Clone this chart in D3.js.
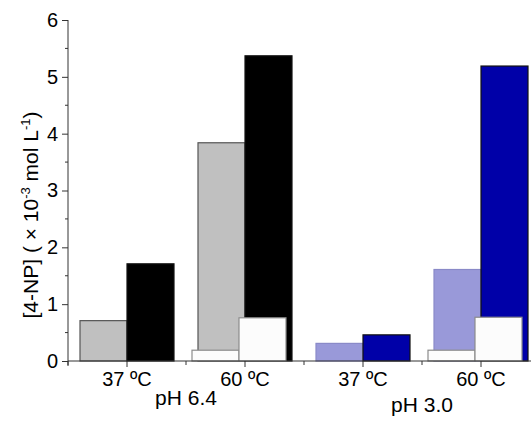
<!DOCTYPE html>
<html>
<head>
<meta charset="utf-8">
<script src="https://cdn.jsdelivr.net/npm/d3@7"></script>
<style>
  body { margin: 0; background: #fff; }
  text { font-family: "Liberation Sans", Arial, sans-serif; }
</style>
</head>
<body>
<div id="chart"></div>
<script>
// data
var catIds = ["a", "b", "c", "d"];
var catLabels = ["37 ºC", "60 ºC", "37 ºC", "60 ºC"];
var groupLabels = ["pH 6.4", "pH 3.0"];
var lightVals = [0.71, 3.84, 0.31, 1.61];
var darkVals = [1.71, 5.37, 0.46, 5.19];
var whiteSmall = [null, 0.19, null, 0.19];
var whiteBig = [null, 0.76, null, 0.77];
var yTicks = [0, 1, 2, 3, 4, 5, 6];

var lightColors = ["#c0c0c0", "#c0c0c0", "#9999d9", "#9999d9"];
var lightStroke = ["#555555", "#555555", "#8a8ac8", "#8a8ac8"];
var darkColors = ["#000000", "#000000", "#0000a8", "#0000a8"];

var svgWidth = 531;
var svgHeight = 423;
var margin = {top: 20, left: 68};
var x0 = 68, x1 = 540;   // axis runs off the right edge
var yBottom = 361;

var svg = d3.select("#chart")
    .append("svg")
    .attr("width", svgWidth)
    .attr("height", svgHeight);

var xScale = d3.scaleBand()
    .domain(catIds)
    .range([x0, x1])
    .padding(0);

var sub = d3.scaleBand().domain(["light", "dark"]).range([12, 106]);
var subWhite = d3.scaleBand().domain(["small", "big"]).range([6, 100]);

var yScale = d3.scaleLinear()
    .domain([0, 6])
    .range([yBottom, margin.top]);

// coloured bars
svg.selectAll(".light")
    .data(lightVals)
    .enter()
    .append("rect")
    .attr("x", (d, i) => xScale(catIds[i]) + sub("light"))
    .attr("y", d => yScale(d))
    .attr("width", sub.bandwidth())
    .attr("height", d => yScale(0) - yScale(d))
    .attr("fill", (d, i) => lightColors[i])
    .attr("stroke", (d, i) => lightStroke[i])
    .attr("stroke-width", 1.2);

svg.selectAll(".dark")
    .data(darkVals)
    .enter()
    .append("rect")
    .attr("x", (d, i) => xScale(catIds[i]) + sub("dark"))
    .attr("y", d => yScale(d))
    .attr("width", sub.bandwidth())
    .attr("height", d => yScale(0) - yScale(d))
    .attr("fill", (d, i) => darkColors[i])
    .attr("stroke", "#111")
    .attr("stroke-width", 1.2);

// white overlay bars
function whiteBars(vals, key) {
    svg.selectAll(".w" + key)
        .data(vals.map((v, i) => ({v: v, i: i})).filter(d => d.v != null))
        .enter()
        .append("rect")
        .attr("x", d => xScale(catIds[d.i]) + subWhite(key))
        .attr("y", d => yScale(d.v))
        .attr("width", subWhite.bandwidth())
        .attr("height", d => yScale(0) - yScale(d.v))
        .attr("fill", "#fcfcfc")
        .attr("stroke", "#8c8c8c")
        .attr("stroke-width", 1.2);
}
whiteBars(whiteSmall, "small");
whiteBars(whiteBig, "big");

// y axis
var leftAxis = d3.axisLeft(yScale).tickValues(yTicks).tickSize(6).tickPadding(4).tickFormat(d3.format("d"));
var yAxisG = svg.append("g")
    .attr("transform", `translate(${x0},0)`)
    .call(leftAxis);
yAxisG.select(".domain").remove();
yAxisG.selectAll("text").style("font-size", "20px").attr("fill", "#000");
yAxisG.selectAll("line").attr("stroke", "#333");

var minorY = d3.range(0.5, 6, 1);
svg.selectAll(".minorY")
    .data(minorY)
    .enter()
    .append("line")
    .attr("x1", x0 - 3).attr("x2", x0)
    .attr("y1", d => yScale(d)).attr("y2", d => yScale(d))
    .attr("stroke", "#333");

svg.append("line")
    .attr("x1", x0).attr("x2", x0)
    .attr("y1", yScale(6)).attr("y2", yBottom + 5)
    .attr("stroke", "#333");

// x axis
var bottomAxis = d3.axisBottom(xScale).tickSize(6).tickPadding(5).tickFormat((d, i) => catLabels[i]);
var xAxisG = svg.append("g")
    .attr("transform", `translate(0,${yBottom})`)
    .call(bottomAxis);
xAxisG.select(".domain").remove();
xAxisG.selectAll("text").style("font-size", "20px").attr("fill", "#000");
xAxisG.selectAll("line").attr("stroke", "#333");

svg.selectAll(".minorX")
    .data(catIds)
    .enter()
    .append("line")
    .attr("x1", d => xScale(d)).attr("x2", d => xScale(d))
    .attr("y1", yBottom).attr("y2", yBottom + 4)
    .attr("stroke", "#333");

svg.append("line")
    .attr("x1", x0).attr("x2", x1)
    .attr("y1", yBottom).attr("y2", yBottom)
    .attr("stroke", "#333");

// group labels
var groupX = [xScale("b"), xScale("d")];
var groupY = [405, 412];
svg.selectAll(".grp")
    .data(groupLabels)
    .enter()
    .append("text")
    .attr("x", (d, i) => groupX[i])
    .attr("y", (d, i) => groupY[i])
    .attr("text-anchor", "middle")
    .style("font-size", "21px")
    .text(d => d);

// y axis title
var title = svg.append("text")
    .attr("transform", "translate(38,215) rotate(-90)")
    .attr("text-anchor", "middle")
    .style("font-size", "21px");
title.append("tspan").text("[4-NP] ( × 10");
title.append("tspan").attr("dy", -8).style("font-size", "13px").text("-3");
title.append("tspan").attr("dy", 8).text(" mol L");
title.append("tspan").attr("dy", -8).style("font-size", "13px").text("-1");
title.append("tspan").attr("dy", 8).text(")");
</script>
</body>
</html>
